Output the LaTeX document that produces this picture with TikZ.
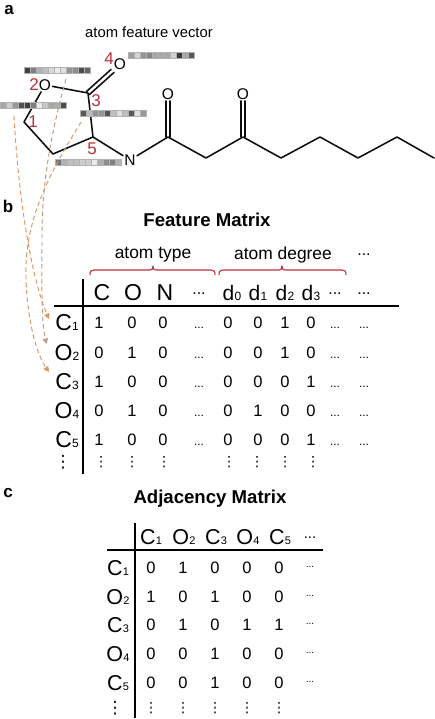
\documentclass[tikz,border=0pt]{standalone}
\usepackage{fontspec}
\setmainfont{Liberation Sans}
\newfontfamily\djv{DejaVu Sans}
\usetikzlibrary{arrows.meta}
\definecolor{lblred}{HTML}{B8323F}
\definecolor{arr}{HTML}{DE9660}
\definecolor{arrg}{HTML}{BD9A7E}
\newcommand{\fs}[1]{\fontsize{#1}{#1}\selectfont}
\newcommand{\atm}[2]{{\fs{23}#1\fs{12}\hspace{0.2pt}#2}}
\newcommand{\atmb}[2]{{\fs{21.5}#1\fs{11}\hspace{0.2pt}#2}}
\newcommand{\dg}[1]{{\fs{21}d\fs{12}\hspace{0.2pt}#1}}
\newcommand{\fbar}[4]{%
  \node[barbox] (#1) at (#2,#3) {};
  \foreach \g [count=\i from 0] in {#4}
    \fill[black!\g,draw=black!30,line width=.5pt] ({#2-33+6*\i},{#3-3}) rectangle ++(6,6);
}
\tikzset{
  x=1pt,y=-1pt,
  bond/.style={line width=1.55pt,black!95,line cap=round,line join=round},
  atomlbl/.style={font=\fs{15.5},inner sep=1.2pt},
  numlbl/.style={font=\fs{17},text=lblred,inner sep=0pt},
  barbox/.style={minimum width=66pt,minimum height=6pt,inner sep=0pt},
  dasharrow/.style={arr,line width=.95pt,dash pattern=on 4.5pt off 3pt,-{Triangle[length=5.5pt,width=5.5pt]}},
  txt/.style={inner sep=0pt,font=\fs{14.8}},
  txtb/.style={inner sep=0pt,font=\fs{17.4}},
  ttl/.style={inner sep=0pt,font=\bfseries\fs{18.6}},
  pnl/.style={inner sep=0pt,font=\bfseries\fs{17}},
  val/.style={inner sep=0pt,anchor=base,font=\fs{16.5}},
  hdr/.style={inner sep=0pt,anchor=base},
  hdots/.style={inner sep=0pt,anchor=base,font=\fs{16}},
  dotsf/.style={inner sep=0pt,anchor=base,font=\fs{12}},
  vdotsf/.style={inner sep=0pt,font=\djv\fs{14}},
  redbr/.style={lblred,line width=1.1pt,line join=round},
  axis/.style={line width=1.4pt,black},
}
\begin{document}
\begin{tikzpicture}
\useasboundingbox[fill=white] (0,0) rectangle (434,719);
% panel letters
\node[pnl] (pa) at (9,10) {a};
\node[pnl] (pb) at (8,206) {b};
\node[pnl] (pc) at (8,493) {c};
\node[txt] (afv) at (149,32) {atom feature vector};
% molecule
\node[atomlbl] (O2) at (45,85) {O};
\node[atomlbl] (O4) at (120,64) {O};
\node[atomlbl] (N) at (130,160) {N};
\node[atomlbl] (O6) at (168,94) {O};
\node[atomlbl] (O7) at (243,94) {O};
\coordinate (c1) at (24,122);
\coordinate (c1b) at (53,154);
\coordinate (c5) at (93,137);
\coordinate (c3) at (88,93);
\coordinate (k1) at (168,137);
\coordinate (k2) at (206,158);
\coordinate (k3) at (243,137);
\coordinate (k4) at (281,158);
\coordinate (k5) at (320,137);
\coordinate (k6) at (358,158);
\coordinate (k7) at (397,137);
\coordinate (k8) at (434,158);
\draw[bond] (O2) -- (c1) -- (c1b) -- (c5) -- (c3) -- (O2);
\draw[bond] (c5) -- (N) -- (k1) -- (k2) -- (k3) -- (k4) -- (k5) -- (k6) -- (k7) -- (k8);
\draw[bond] ([xshift=1.5pt,yshift=-1.5pt]c3) -- ([xshift=1.5pt,yshift=-1.5pt]O4.south west);
\draw[bond] ([xshift=-1.5pt,yshift=1.5pt]c3) -- ([xshift=-1.5pt,yshift=1.5pt]O4.south west);
\draw[bond] ([xshift=-2pt]k1) -- ([xshift=-2pt]O6.south);
\draw[bond] ([xshift=2pt]k1) -- ([xshift=2pt]O6.south);
\draw[bond] ([xshift=-2pt]k3) -- ([xshift=-2pt]O7.south);
\draw[bond] ([xshift=2pt]k3) -- ([xshift=2pt]O7.south);
% feature bars
\fbar{b1}{33.5}{105.5}{35,20,40,68,75,50,8,22,35,32,70}
\fbar{b2}{57}{70}{75,50,30,25,15,8,12,42,45,70,60}
\fbar{b3}{113.5}{113}{65,27,42,42,68,25,12,25,65,12,40}
\fbar{b4}{161}{55}{38,18,42,48,35,35,35,18,78,35,65}
\fbar{b5}{88}{162}{55,30,25,25,20,20,8,32,45,50,30}
% atom numbers
\node[numlbl] (n1) at (33,122) {1};
\node[numlbl] (n2) at (34,85) {2};
\node[numlbl] (n3) at (96,101) {3};
\node[numlbl] (n4) at (109,59) {4};
\node[numlbl] (n5) at (92,149) {5};
% dashed arrows
\coordinate (s1) at (14,116);
\coordinate (e1) at (49,319);
\coordinate (s2) at (66,79);
\coordinate (m2) at (42,235);
\coordinate (e2) at (46.5,344);
\coordinate (s3) at (81,122);
\coordinate (m3) at (26,265);
\coordinate (e3) at (49,372);
\draw[dasharrow] (s1) .. controls (18,190) and (30,275) .. (e1);
\draw[dasharrow,arrg] (s2) .. controls (52,130) and (42,180) .. (m2) .. controls (42,280) and (41,320) .. (e2);
\draw[dasharrow] (s3) .. controls (55,165) and (28,210) .. (m3) .. controls (25,310) and (35,352) .. (e3);
% ---------- feature matrix
\node[ttl] (ft) at (207,220) {Feature Matrix};
\node[txtb] (aty) at (153,255) {atom type};
\node[txtb] (adg) at (283,255) {atom degree};
\node[hdots] (tdots) at (364,255.5) {...};
\draw[redbr] (90,275) .. controls (90,271) and (91,270) .. (94,270) -- (150,270) .. controls (152,270) and (153,269) .. (153,266) .. controls (153,269) and (154,270) .. (156,270) -- (211,270) .. controls (214,270) and (215,271) .. (215,275);
\draw[redbr] (219,275) .. controls (219,271) and (220,270) .. (223,270) -- (279,270) .. controls (281,270) and (282,269) .. (282,266) .. controls (282,269) and (283,270) .. (285,270) -- (342,270) .. controls (345,270) and (346,271) .. (346,275);
\draw[axis] (54,306) -- (399,306);
\draw[axis] (83,279) -- (83,474);
\foreach \t/\x/\nm in {C/102/c,O/133/o,N/165/n}
  \node[hdr,font=\fs{23}] (fh\nm) at (\x,300) {\t};
\foreach \t/\x/\nm in {0/232/a,1/258/b,2/285/c,3/311/d}
  \node[hdr] (fd\nm) at (\x,300) {\dg{\t}};
\foreach \x/\nm in {199/a,335/b,364/c}
  \node[hdots] (fhd\nm) at (\x,294.5) {...};
\foreach \a/\b/\yy [count=\r] in {C/1/330,O/2/360,C/3/389,O/4/418,C/5/447}
  \node[hdr] (fr\r) at (67,\yy) {\atm{\a}{\b}};
\foreach \yy/\aa/\ab/\ac/\ba/\bb/\bc/\bd [count=\r] in {
   328/1/0/0/0/0/1/0,
   358/0/1/0/0/0/1/0,
   387/1/0/0/0/0/0/1,
   416/0/1/0/0/1/0/0,
   445/1/0/0/0/0/0/1}{
  \node[val] (fv\r a) at (99,\yy) {\aa};
  \node[val] (fv\r b) at (132,\yy) {\ab};
  \node[val] (fv\r c) at (163,\yy) {\ac};
  \node[val] (fv\r d) at (228,\yy) {\ba};
  \node[val] (fv\r e) at (258,\yy) {\bb};
  \node[val] (fv\r f) at (285,\yy) {\bc};
  \node[val] (fv\r g) at (311,\yy) {\bd};
  \node[dotsf] (fv\r x) at (199,\yy) {...};
  \node[dotsf] (fv\r y) at (335,\yy) {...};
  \node[dotsf] (fv\r z) at (364,\yy) {...};
}
\node[vdotsf,font=\djv\fs{17}] (fvl) at (63,462) {⋮};
\foreach \x/\nm in {101/a,132/b,164/c,229/d,257/e,285/f,313/g}
  \node[vdotsf] (fvd\nm) at (\x,462) {⋮};
% ---------- adjacency matrix
\node[ttl] (at) at (210,498.5) {Adjacency Matrix};
\draw[axis] (107,550) -- (323,550);
\draw[axis] (135,523) -- (135,718);
\foreach \a/\b/\x in {C/1/151,O/2/184,C/3/216,O/4/248,C/5/280}
  \node[hdr] (ah\b) at (\x,544) {\atmb{\a}{\b}};
\node[hdr,font=\fs{15}] (ahd) at (310,538.5) {...};
\foreach \a/\b/\yy [count=\r] in {C/1/575,O/2/604,C/3/632,O/4/661,C/5/690}
  \node[hdr] (ar\r) at (118,\yy) {\atmb{\a}{\b}};
\foreach \yy/\va/\vb/\vc/\vd/\ve [count=\r] in {
   573/0/1/0/0/0,
   602/1/0/1/0/0,
   630/0/1/0/1/1,
   659/0/0/1/0/0,
   688/0/0/1/0/0}{
  \node[val] (av\r a) at (151,\yy) {\va};
  \node[val] (av\r b) at (183,\yy) {\vb};
  \node[val] (av\r c) at (215,\yy) {\vc};
  \node[val] (av\r d) at (247,\yy) {\vd};
  \node[val] (av\r e) at (279,\yy) {\ve};
  \node[dotsf,font=\fs{10}] (av\r x) at (310,{\yy-6}) {...};
}
\node[vdotsf,font=\djv\fs{17}] (avl) at (115,708) {⋮};
\foreach \x/\nm in {151/a,183/b,215/c,247/d,279/e}
  \node[vdotsf] (avd\nm) at (\x,708) {⋮};
\end{tikzpicture}
\end{document}
